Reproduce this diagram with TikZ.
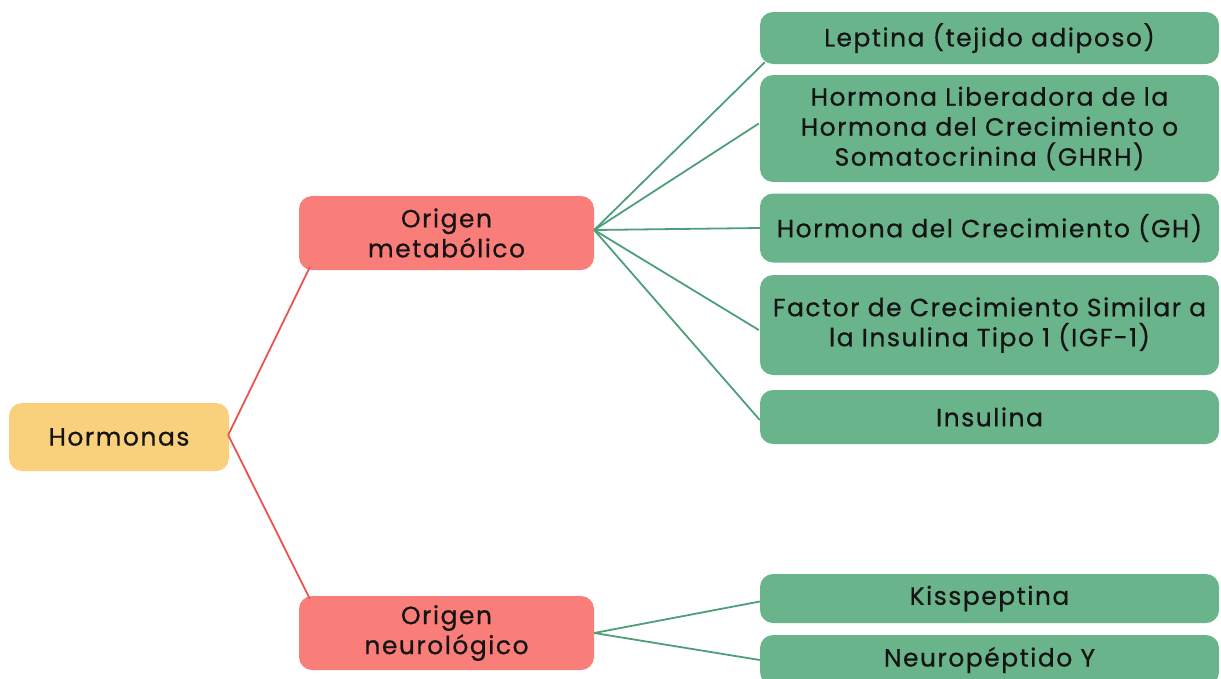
\documentclass[tikz,border=0pt]{standalone}
\usepackage{fontspec}
\setmainfont{Poppins}[LetterSpace=6,FakeBold=0.6]
\usetikzlibrary{calc}
\definecolor{cyel}{HTML}{F9D17C}
\definecolor{cred}{HTML}{F97D78}
\definecolor{cgreen}{HTML}{6AB48C}
\definecolor{lred}{HTML}{E8544F}
\definecolor{lgreen}{HTML}{4E9F79}
\definecolor{ctext}{HTML}{141414}
\begin{document}
\begin{tikzpicture}[x=1pt,y=-1pt,
  box/.style={rectangle,rounded corners=13pt,inner sep=0pt,align=center,
    text=ctext,font=\fontsize{25}{30}\selectfont},
  root/.style={box,fill=cyel,minimum width=220pt,minimum height=68pt},
  mid/.style={box,fill=cred,minimum width=295pt,minimum height=74pt},
  leaf/.style={box,fill=cgreen,minimum width=459pt},
  rline/.style={draw=lred,line width=1.8pt},
  gline/.style={draw=lgreen,line width=1.8pt}]
\useasboundingbox (0,0) rectangle (1221,678);
\begin{scope}
\clip (0,0) rectangle (1221,678);
\node[root] (h) at (119,437) {Hormonas};
\node[mid] (om) at (446.5,233) {Origen\\metabólico};
\node[mid] (on) at (446.5,633) {Origen\\neurológico};
\node[leaf,minimum height=52pt] (l1) at (989.5,38) {Leptina (tejido adiposo)};
\node[leaf,minimum height=107pt] (l2) at (989.5,128.5) {Hormona Liberadora de la\\Hormona del Crecimiento o\\Somatocrinina (GHRH)};
\node[leaf,minimum height=69pt] (l3) at (989.5,228) {Hormona del Crecimiento (GH)};
\node[leaf,minimum height=100pt] (l4) at (989.5,325) {Factor de Crecimiento Similar a\\la Insulina Tipo 1 (IGF-1)};
\node[leaf,minimum height=54pt] (l5) at (989.5,417) {Insulina};
\node[leaf,minimum height=49pt] (n1) at (989.5,598.5) {Kisspeptina};
\node[leaf,minimum height=50pt] (n2) at (989.5,660) {Neuropéptido Y};

\draw[rline] ($(h.east)+(-1,-2)$) -- ($(om.south west)+(11,-3)$);
\draw[rline] ($(h.east)+(-1,-2)$) -- ($(on.north west)+(11,3)$);

\draw[gline] ($(om.east)+(0,-3)$) -- ($(l1.south west)+(5,-2)$);
\draw[gline] ($(om.east)+(0,-3)$) -- ($(l2.west)+(-1,-5)$);
\draw[gline] ($(om.east)+(0,-3)$) -- (l3.west);
\draw[gline] ($(om.east)+(0,-3)$) -- ($(l4.west)+(-1,5)$);
\draw[gline] ($(om.east)+(0,-3)$) -- ($(l5.west)+(0,3)$);

\draw[gline] (on.east) -- ($(n1.west)+(0,3)$);
\draw[gline] (on.east) -- (n2.west);
\end{scope}
\end{tikzpicture}
\end{document}
